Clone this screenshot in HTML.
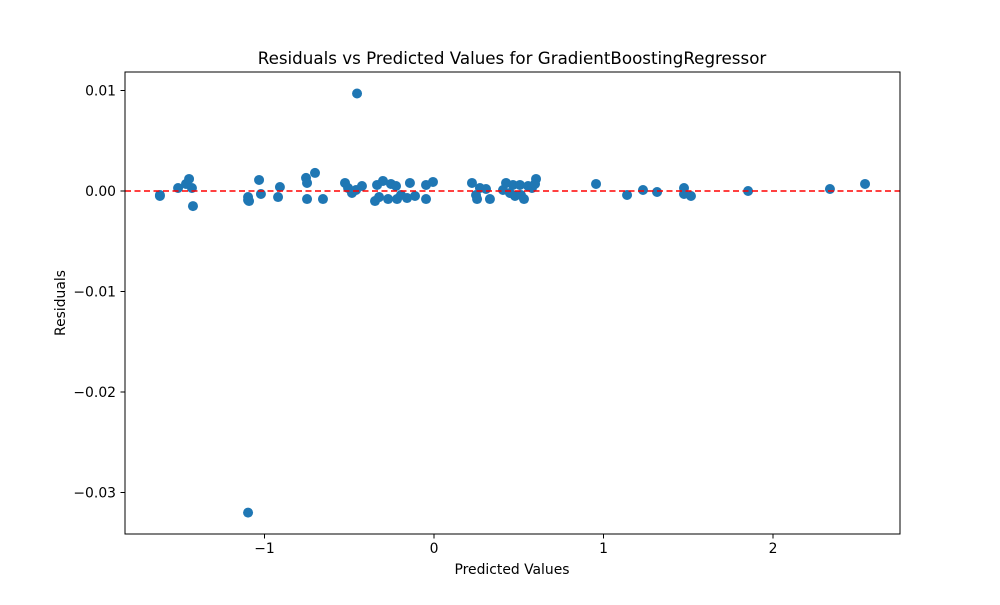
<!DOCTYPE html>
<html><head><meta charset="utf-8"><style>body{margin:0;background:#fff}svg{font-family:"DejaVu Sans","Liberation Sans",sans-serif}</style></head>
<body>
<svg id="chart" width="1000" height="600">
<rect x="0" y="0" width="1000" height="600" fill="#fff"/>
<text x="512" y="64" font-size="16.7" text-anchor="middle">Residuals vs Predicted Values for GradientBoostingRegressor</text>
<text x="512" y="574" font-size="13.9" text-anchor="middle">Predicted Values</text>
<text x="65" y="303" font-size="13.9" text-anchor="middle" transform="rotate(-90 65 303)">Residuals</text>
<g id="grid"></g>
<g id="pts"></g>
<rect x="125" y="72" width="775" height="462" fill="none" stroke="#000" stroke-width="1"/>
</svg>
<script>
const xs=[-1.617,-1.617,-1.510,-1.463,-1.445,-1.428,-1.422,-1.097,-1.097,-1.091,-1.032,-1.021,-0.920,-0.909,-0.755,-0.749,-0.749,-0.702,-0.655,-0.525,-0.507,-0.484,-0.460,-0.425,-0.348,-0.336,-0.324,-0.301,-0.271,-0.254,-0.224,-0.218,-0.195,-0.159,-0.142,-0.112,-0.047,-0.047,-0.006,-0.454,-1.097,0.224,0.248,0.254,0.271,0.307,0.330,0.407,0.425,0.448,0.466,0.478,0.507,0.513,0.531,0.555,0.578,0.602,0.596,0.956,1.139,1.233,1.316,1.475,1.475,1.516,1.853,2.336,2.543];
const ys=[-0.0004,-0.0005,0.0003,0.0007,0.0012,0.0003,-0.0015,-0.0006,-0.0009,-0.0010,0.0011,-0.0003,-0.0006,0.0004,0.0013,0.0008,-0.0008,0.0018,-0.0008,0.0008,0.0003,-0.0002,0.0001,0.0005,-0.0010,0.0006,-0.0006,0.0010,-0.0008,0.0007,0.0005,-0.0008,-0.0004,-0.0007,0.0008,-0.0005,-0.0008,0.0006,0.0009,0.0097,-0.0320,0.0008,-0.0004,-0.0008,0.0003,0.0002,-0.0008,0.0001,0.0008,-0.0002,0.0006,-0.0005,0.0006,-0.0004,-0.0008,0.0005,0.0003,0.0012,0.0007,0.0007,-0.0004,0.0001,-0.0001,0.0003,-0.0003,-0.0005,0.0000,0.0002,0.0007];
const xTicks=[-1,0,1,2];
const yTicks=[0.01,0.00,-0.01,-0.02,-0.03];
const yTickLabels=["0.01","0.00","\u22120.01","\u22120.02","\u22120.03"];
const X=v=>434+v*169.5, Y=v=>191-v*10050;
const NS="http://www.w3.org/2000/svg";
const g=document.getElementById('grid'), p=document.getElementById('pts');
function mk(t,a,parent){const e=document.createElementNS(NS,t);for(const k in a)e.setAttribute(k,a[k]);parent.appendChild(e);return e;}
xTicks.forEach(v=>{
 const l=mk('line',{x1:X(v),x2:X(v),y1:534,y2:538.5,stroke:'#000'},g);
 
 
 const t=mk('text',{x:X(v),y:553,'font-size':13.9,'text-anchor':'middle'},g);
 t.textContent=v<0?'\u2212'+Math.abs(v):String(v);
 
 
});
yTicks.forEach((v,i)=>{
 const l=mk('line',{x1:120.5,x2:125,y1:Y(v),y2:Y(v),stroke:'#000'},g);
 
 
 const t=mk('text',{x:116,y:Y(v)+5,'font-size':13.9,'text-anchor':'end'},g);
 t.textContent=yTickLabels[i];
 
 
});
xs.forEach((x,i)=>{
 const c=mk('circle',{cx:X(x),cy:Y(ys[i]),r:5,fill:'#1f77b4'},p);
 
 
});
const z=mk('line',{x1:125,x2:900,y1:Y(0),y2:Y(0),stroke:'#ff0000','stroke-width':1.6,'stroke-dasharray':'6,3.5'},p);


</script>
</body></html>
